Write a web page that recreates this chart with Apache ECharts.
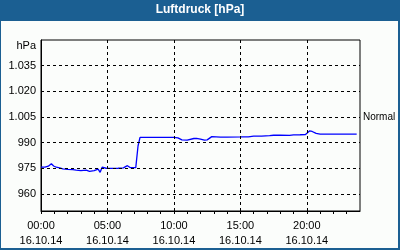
<!DOCTYPE html>
<html>
<head>
<meta charset="utf-8">
<script src="https://cdn.jsdelivr.net/npm/echarts@6/dist/echarts.min.js"></script>
<style>html,body{margin:0;padding:0;background:#1b5f92;}#c{width:400px;height:250px;}</style>
</head>
<body>
<div id="c"></div>
<script>
const titleText = 'Luftdruck [hPa]';
const unitLabel = 'hPa';
const normalLabel = 'Normal';
const normalValue = 1005;
const yTicks = [960, 975, 990, 1005, 1020, 1035];
const yTickLabels = ['960', '975', '990', '1.005', '1.020', '1.035'];
const xTicks = [0, 5, 10, 15, 20];
const xTimeLabels = ['00:00', '05:00', '10:00', '15:00', '20:00'];
const dateLabel = '16.10.14';
const hours = [0, 0.3, 0.55, 0.78, 0.95, 1.15, 1.4, 1.65, 2.0, 2.4, 2.65, 3.0, 3.4, 3.65, 3.8, 4.0, 4.15, 4.3, 4.45, 4.6, 4.9, 5.3, 5.8, 6.2, 6.5, 6.7, 7.13, 7.3, 7.45, 8.0, 9.0, 10.0, 10.3, 10.6, 11.0, 11.5, 11.7, 12.0, 12.3, 12.5, 12.85, 13.5, 14.0, 15.0, 15.6, 16.0, 16.6, 17.2, 17.5, 18.0, 18.7, 19.0, 19.5, 19.9, 20.2, 20.4, 20.7, 21.0, 22.0, 23.0, 23.75];
const pressure = [975.6, 975.6, 976.2, 977.6, 976.3, 975.6, 975.2, 974.6, 974.4, 974.2, 973.9, 973.6, 973.9, 973.2, 972.6, 973.6, 972.8, 974.5, 972.6, 975.6, 975.0, 974.9, 975.0, 975.2, 976.5, 975.4, 975.4, 988.0, 993.0, 993.1, 993.1, 993.1, 992.8, 991.6, 991.4, 992.4, 992.5, 992.0, 991.5, 991.6, 993.5, 993.2, 993.2, 993.3, 993.4, 993.8, 993.8, 994.1, 994.3, 994.4, 994.2, 994.5, 994.6, 994.7, 996.8, 996.5, 995.4, 995.0, 995.0, 995.0, 995.0];

const seriesData = hours.map((h, i) => [h, pressure[i]]);
const FONT = '"Liberation Sans", Arial, sans-serif';
const dash = [3, 3];

const markData = [];
yTicks.forEach(v => {
  const item = { yAxis: v, lineStyle: { color: '#000', width: 1, type: dash } };
  if (v === normalValue) {
    item.label = { show: true, position: 'end', formatter: normalLabel, color: '#000', fontSize: 10, fontFamily: FONT, distance: 3, overflow: 'none', width: 40 };
  }
  markData.push(item);
});
xTicks.filter(v => v > 0).forEach(v => {
  markData.push({ xAxis: v, lineStyle: { color: '#000', width: 1, type: dash } });
});

const chart = echarts.init(document.getElementById('c'), null, { renderer: 'canvas' });
chart.setOption({
  backgroundColor: '#1b5f92',
  animation: false,
  title: {
    text: titleText,
    left: 'center',
    top: 0,
    padding: [4, 0, 4, 12],
    textStyle: { color: '#ffffff', fontSize: 12, fontWeight: 'bold', fontFamily: FONT }
  },
  graphic: [
    { type: 'rect', z: -10, shape: { x: 1, y: 21, width: 397, height: 227 }, style: { fill: '#fbfdfb' } },
    { type: 'text', z: 10, x: 36, y: 46, style: { text: unitLabel, align: 'right', verticalAlign: 'middle', fill: '#000', font: '11px ' + FONT } }
  ],
  grid: { left: 41, right: 40, top: 40, bottom: 39, show: true, borderColor: '#000', borderWidth: 1, backgroundColor: 'transparent' },
  xAxis: {
    type: 'value', min: 0, max: 24, interval: 1,
    axisLine: { show: true, lineStyle: { color: '#000', width: 1 } },
    axisTick: { show: true, length: 3, lineStyle: { color: '#000' } },
    splitLine: { show: false },
    axisLabel: {
      margin: 7, color: '#000', fontSize: 11, fontFamily: FONT, lineHeight: 15,
      showMaxLabel: false,
      formatter: v => { const i = xTicks.indexOf(v); return i >= 0 ? xTimeLabels[i] + '\n' + dateLabel : ''; }
    }
  },
  yAxis: {
    type: 'value', min: 950, max: 1050, interval: 5,
    axisLine: { show: true, lineStyle: { color: '#000', width: 1 } },
    axisTick: { show: false },
    splitLine: { show: false },
    axisLabel: {
      margin: 5, color: '#000', fontSize: 11, fontFamily: FONT,
      formatter: v => { const i = yTicks.indexOf(v); return i >= 0 ? yTickLabels[i] : ''; }
    }
  },
  series: [{
    type: 'line',
    data: seriesData,
    showSymbol: false,
    symbol: 'none',
    lineStyle: { color: '#0000ff', width: 1.3 },
    markLine: {
      silent: true, symbol: ['none', 'none'], animation: false,
      label: { show: false },
      data: markData
    }
  }]
});
</script>
</body>
</html>
